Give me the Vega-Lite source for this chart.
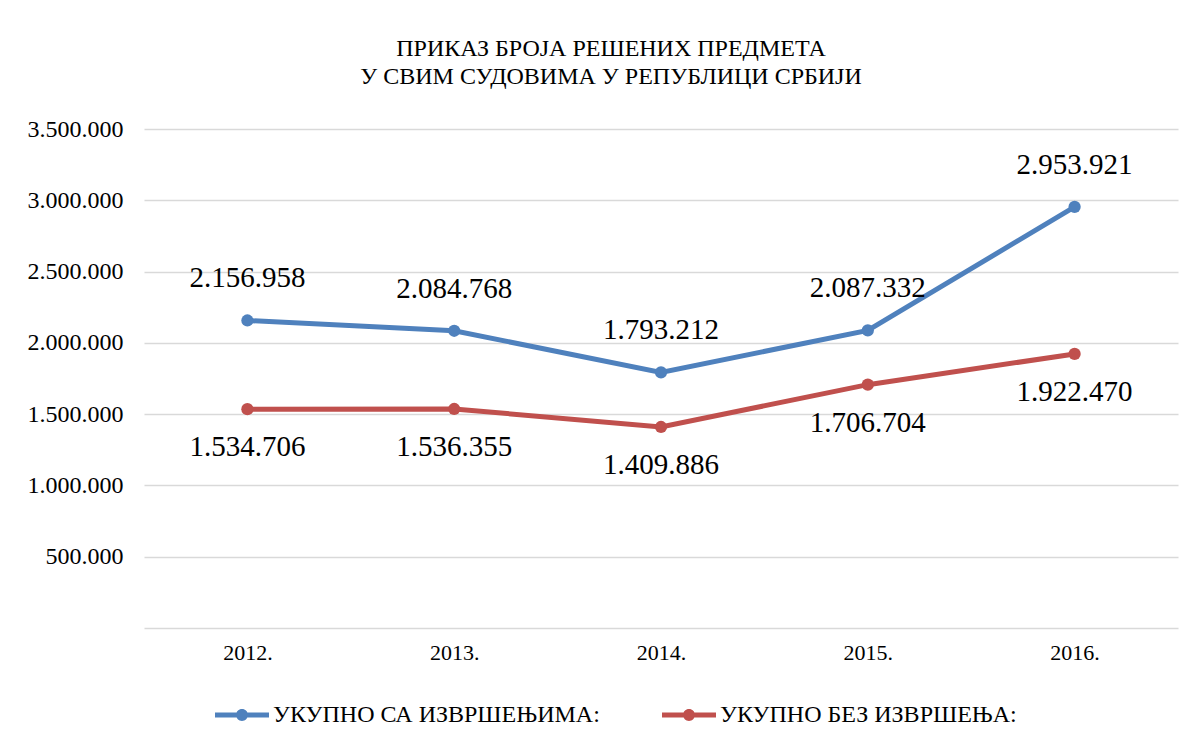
{
  "$schema": "https://vega.github.io/schema/vega-lite/v6.json",
  "width": 1034,
  "height": 499,
  "autosize": {"type": "none"},
  "padding": {"left": 144, "top": 129, "right": 23, "bottom": 123},
  "background": "white",
  "config": {
    "locale": {"number": {"decimal": ",", "thousands": ".", "grouping": [3], "currency": ["", ""]}},
    "view": {"stroke": null},
    "font": "Liberation Serif"
  },
  "title": {
    "text": ["ПРИКАЗ БРОЈА РЕШЕНИХ ПРЕДМЕТА", "У СВИМ СУДОВИМА У РЕПУБЛИЦИ СРБИЈИ"],
    "font": "Liberation Serif",
    "fontSize": 24,
    "fontWeight": "normal",
    "color": "#000000",
    "lineHeight": 28,
    "anchor": "middle",
    "offset": 28,
    "dx": -50
  },
  "data": {
    "values": [
      {"year": "2012.", "series": "УКУПНО СА ИЗВРШЕЊИМА:", "value": 2156958},
      {"year": "2013.", "series": "УКУПНО СА ИЗВРШЕЊИМА:", "value": 2084768},
      {"year": "2014.", "series": "УКУПНО СА ИЗВРШЕЊИМА:", "value": 1793212},
      {"year": "2015.", "series": "УКУПНО СА ИЗВРШЕЊИМА:", "value": 2087332},
      {"year": "2016.", "series": "УКУПНО СА ИЗВРШЕЊИМА:", "value": 2953921},
      {"year": "2012.", "series": "УКУПНО БЕЗ ИЗВРШЕЊА:", "value": 1534706},
      {"year": "2013.", "series": "УКУПНО БЕЗ ИЗВРШЕЊА:", "value": 1536355},
      {"year": "2014.", "series": "УКУПНО БЕЗ ИЗВРШЕЊА:", "value": 1409886},
      {"year": "2015.", "series": "УКУПНО БЕЗ ИЗВРШЕЊА:", "value": 1706704},
      {"year": "2016.", "series": "УКУПНО БЕЗ ИЗВРШЕЊА:", "value": 1922470}
    ]
  },
  "encoding": {
    "x": {
      "field": "year", "type": "ordinal",
      "scale": {"paddingInner": 0, "paddingOuter": 0.5},
      "axis": {
        "title": null, "labelAngle": 0, "domain": false, "ticks": false, "grid": false,
        "labelFont": "Liberation Serif", "labelFontSize": 22, "labelColor": "#000000", "labelPadding": 14
      }
    },
    "y": {
      "field": "value", "type": "quantitative",
      "scale": {"domain": [0, 3500000], "nice": false},
      "axis": {
        "title": null, "values": [0, 500000, 1000000, 1500000, 2000000, 2500000, 3000000, 3500000],
        "format": ",d", "labelExpr": "datum.value == 0 ? '' : datum.label",
        "domain": false, "ticks": false, "grid": true, "gridColor": "#d9d9d9", "gridWidth": 1.5,
        "labelFont": "Liberation Serif", "labelFontSize": 24, "labelColor": "#000000", "labelPadding": 21
      }
    },
    "color": {
      "field": "series", "type": "nominal",
      "scale": {"domain": ["УКУПНО СА ИЗВРШЕЊИМА:", "УКУПНО БЕЗ ИЗВРШЕЊА:"], "range": ["#4f81bd", "#c0504d"]},
      "legend": {
        "title": null, "orient": "none", "direction": "horizontal",
        "legendX": 71, "legendY": 559,
        "symbolType": "M-1,-0.09 L1,-0.09 L1,0.09 L-1,0.09 Z M0.22,0 A0.22,0.22 0 1,1 -0.22,0 A0.22,0.22 0 1,1 0.22,0 Z",
        "symbolSize": 2916, "symbolStrokeWidth": 0,
        "labelFont": "Liberation Serif", "labelFontSize": 24, "labelColor": "#000000",
        "labelOffset": 4, "columnPadding": 62, "labelLimit": 500,
        "encode": {"symbols": {"update": {"fill": {"scale": "color", "field": "value"}, "fillOpacity": {"value": 1}, "strokeWidth": {"value": 0}}}}
      }
    }
  },
  "layer": [
    {"mark": {"type": "line", "strokeWidth": 5}},
    {"mark": {"type": "point", "filled": true, "shape": "circle", "size": 150, "opacity": 1}},
    {
      "transform": [{"filter": "datum.series == 'УКУПНО СА ИЗВРШЕЊИМА:'"}],
      "mark": {"type": "text", "dy": -42, "fontSize": 29, "font": "Liberation Serif", "color": "#000000"},
      "encoding": {"text": {"field": "value", "type": "quantitative", "format": ",d"}, "color": {"value": "#000000"}}
    },
    {
      "transform": [{"filter": "datum.series == 'УКУПНО БЕЗ ИЗВРШЕЊА:'"}],
      "mark": {"type": "text", "dy": 38, "fontSize": 29, "font": "Liberation Serif", "color": "#000000"},
      "encoding": {"text": {"field": "value", "type": "quantitative", "format": ",d"}, "color": {"value": "#000000"}}
    }
  ]
}
